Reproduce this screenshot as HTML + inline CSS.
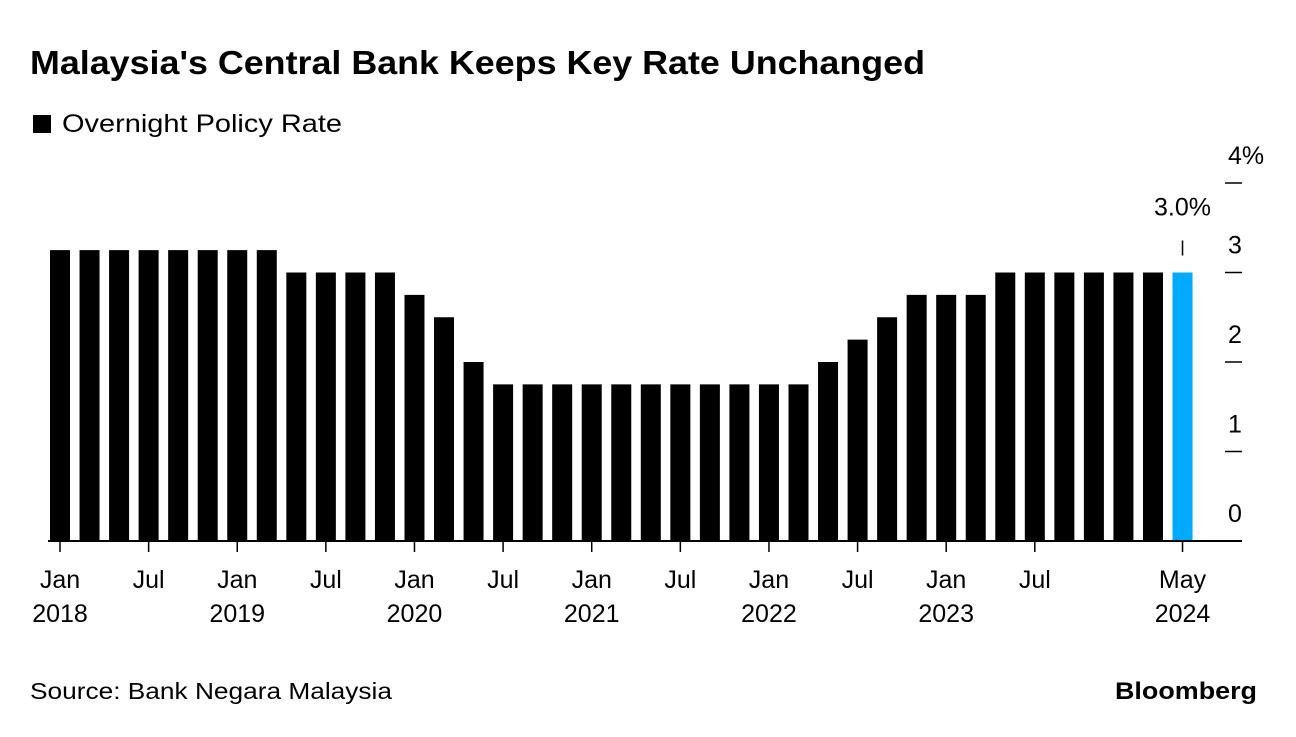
<!DOCTYPE html>
<html><head><meta charset="utf-8"><style>
body{margin:0;background:#fff;width:1296px;height:732px;overflow:hidden;font-family:"Liberation Sans",sans-serif;}
</style></head><body>
<svg width="1296" height="732" xmlns="http://www.w3.org/2000/svg" font-family="Liberation Sans, sans-serif">
<text x="30" y="74" font-size="33" font-weight="bold" fill="#000" textLength="895" lengthAdjust="spacingAndGlyphs">Malaysia's Central Bank Keeps Key Rate Unchanged</text>
<rect x="33" y="115" width="18" height="18" fill="#000"/>
<text x="62" y="132" font-size="25" fill="#000" textLength="280" lengthAdjust="spacingAndGlyphs">Overnight Policy Rate</text>
<g id="bars"></g><g id="axes"></g>
<text x="30" y="699" font-size="23" fill="#000" textLength="362" lengthAdjust="spacingAndGlyphs">Source: Bank Negara Malaysia</text>
<text x="1257" y="699" font-size="24" font-weight="bold" fill="#000" text-anchor="end" textLength="142" lengthAdjust="spacingAndGlyphs">Bloomberg</text>
</svg>
<script>
const values=[3.25,3.25,3.25,3.25,3.25,3.25,3.25,3.25,3,3,3,3,2.75,2.5,2,1.75,1.75,1.75,1.75,1.75,1.75,1.75,1.75,1.75,1.75,1.75,2,2.25,2.5,2.75,2.75,2.75,3,3,3,3,3,3,3];
const yTicks=[0,1,2,3,4];
const yTickLabels=["0","1","2","3","4%"];
const xTickMonths=[0,6,12,18,24,30,36,42,48,54,60,66,76];
const xTickLine1=["Jan","Jul","Jan","Jul","Jan","Jul","Jan","Jul","Jan","Jul","Jan","Jul","May"];
const xTickLine2=["2018","","2019","","2020","","2021","","2022","","2023","","2024"];
const NS="http://www.w3.org/2000/svg";
const x=m=>60+m*14.77;
const y=v=>541-v*89.5;
const bars=document.getElementById('bars'),axes=document.getElementById('axes');
function mk(tag,attrs,parent){const e=document.createElementNS(NS,tag);for(const k in attrs)e.setAttribute(k,attrs[k]);parent.appendChild(e);return e;}
values.forEach((v,i)=>{
 const cx=x(i*2);
 const r=mk('rect',{x:cx-10,y:y(v),width:20,height:y(0)-y(v),fill:i===values.length-1?'#00aaff':'#000'},bars);
 
 
});
const last=values.length-1;
const al=mk('line',{x1:x(last*2),x2:x(last*2),y1:y(values[last])-32,y2:y(values[last])-17,stroke:'#000','stroke-width':1.5},axes);


const at=mk('text',{x:x(last*2),y:y(values[last])-57,'font-size':25,'text-anchor':'middle'},axes);
at.textContent=values[last].toFixed(1)+'%';


const base=mk('line',{x1:48,x2:1242,y1:y(0),y2:y(0),stroke:'#000','stroke-width':2},axes);


yTicks.forEach((t,i)=>{
 if(t>0){const l=mk('line',{x1:1225,x2:1242,y1:y(t),y2:y(t),stroke:'#000','stroke-width':1.5},axes);
 
 }
 const tx=mk('text',{x:1228,y:y(t)-19,'font-size':25},axes);
 tx.textContent=yTickLabels[i];
 
 
});
xTickMonths.forEach((m,i)=>{
 const l=mk('line',{x1:x(m),x2:x(m),y1:y(0),y2:y(0)+11,stroke:'#000','stroke-width':1.5},axes);
 
 
 const t1=mk('text',{x:x(m),y:588,'font-size':25,'text-anchor':'middle'},axes);
 t1.textContent=xTickLine1[i];
 
 
 if(xTickLine2[i]){const t2=mk('text',{x:x(m),y:622,'font-size':25,'text-anchor':'middle'},axes);
 t2.textContent=xTickLine2[i];
 
 }
});
</script>
</body></html>
